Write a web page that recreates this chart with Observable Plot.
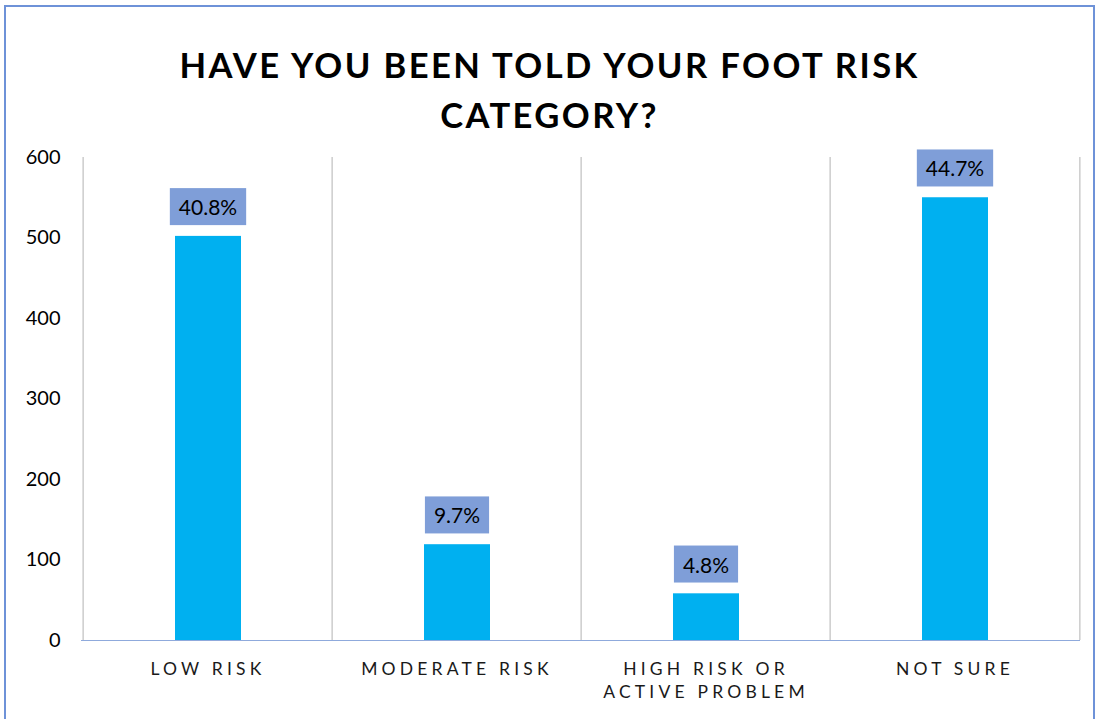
<!DOCTYPE html>
<html>
<head>
<meta charset="utf-8">
<script src="https://cdn.jsdelivr.net/npm/d3@7"></script>
<script src="https://cdn.jsdelivr.net/npm/@observablehq/plot@0.6"></script>
<style>
  html, body { margin: 0; padding: 0; background: #fff; overflow: hidden; }
  body { width: 1099px; height: 719px; position: relative; font-family: Lato, "Open Sans", sans-serif; }
  #frame { position: absolute; left: 4px; top: 5px; width: 1091px; height: 740px; border: 2px solid #6E92D8; box-sizing: border-box; }
  #title { position: absolute; left: 0; width: 1099px; top: 40px; text-align: center; font-weight: 700; font-size: 34.6px; letter-spacing: 2.4px; line-height: 50px; color: #000; }
  #chart { position: absolute; left: 0; top: 140px; }
  .xlab text { letter-spacing: 4.2px; }
</style>
</head>
<body>
<div id="frame"></div>
<div id="title">HAVE YOU BEEN TOLD YOUR FOOT RISK<br>CATEGORY?</div>
<div id="chart"></div>
<script>
const categories = ["LOW RISK", "MODERATE RISK", "HIGH RISK OR\nACTIVE PROBLEM", "NOT SURE"];
const counts = [502, 119, 58, 550];
const percentLabels = ["40.8%", "9.7%", "4.8%", "44.7%"];
const yTicks = [0, 100, 200, 300, 400, 500, 600];

const data = categories.map((c, i) => ({cat: c, count: counts[i], label: percentLabels[i]}));

const W = 1099, H = 579, ML = 81, MR = 19, MT = 17, MB = 79;
const band = (W - ML - MR) / categories.length;

const plot = Plot.plot({
  width: W, height: H,
  marginLeft: ML, marginRight: MR, marginTop: MT, marginBottom: MB,
  style: {fontFamily: "Lato, 'Open Sans', sans-serif", color: "#000", background: "transparent"},
  x: {domain: categories, padding: 0, label: null},
  y: {domain: [0, 600], label: null},
  marks: [
    Plot.ruleX(categories, {x: d => d, dx: -band / 2, stroke: "#BFBFBF", strokeWidth: 1.2}),
    Plot.ruleX([categories[categories.length - 1]], {x: d => d, dx: band / 2, stroke: "#BFBFBF", strokeWidth: 1.2}),
    Plot.barY(data, {x: "cat", y: "count", fill: "#00B0F0", insetLeft: 92, insetRight: 91}),
    Plot.ruleY([0], {stroke: "#8FAADC", strokeWidth: 1.2}),
    Plot.axisY({ticks: yTicks, tickSize: 0, tickPadding: 21, fontSize: 20, tickFormat: d => String(d)}),
    Plot.axisX({tickSize: 0, tickPadding: 19, fontSize: 17.5, className: "xlab", fill: "#1a1a1a", lineHeight: 1.28}),
    Plot.text(data, {x: "cat", y: "count", text: "label", dy: -28, fontSize: 21, fill: "#000", className: "vlab"})
  ]
});
document.getElementById("chart").appendChild(plot);

// add background boxes behind value labels
const g = plot.querySelector("g.vlab");
if (g) {
  g.querySelectorAll("text").forEach(t => {
    const b = t.getBBox();
    const rect = document.createElementNS("http://www.w3.org/2000/svg", "rect");
    const cy = b.y + b.height / 2;
    rect.setAttribute("x", b.x - 9);
    rect.setAttribute("y", cy - 18.5);
    rect.setAttribute("width", b.width + 18);
    rect.setAttribute("height", 37);
    rect.setAttribute("fill", "#7F9ED8");
    const tr = t.getAttribute("transform");
    if (tr) rect.setAttribute("transform", tr);
    g.insertBefore(rect, t);
  });
}
</script>
</body>
</html>
